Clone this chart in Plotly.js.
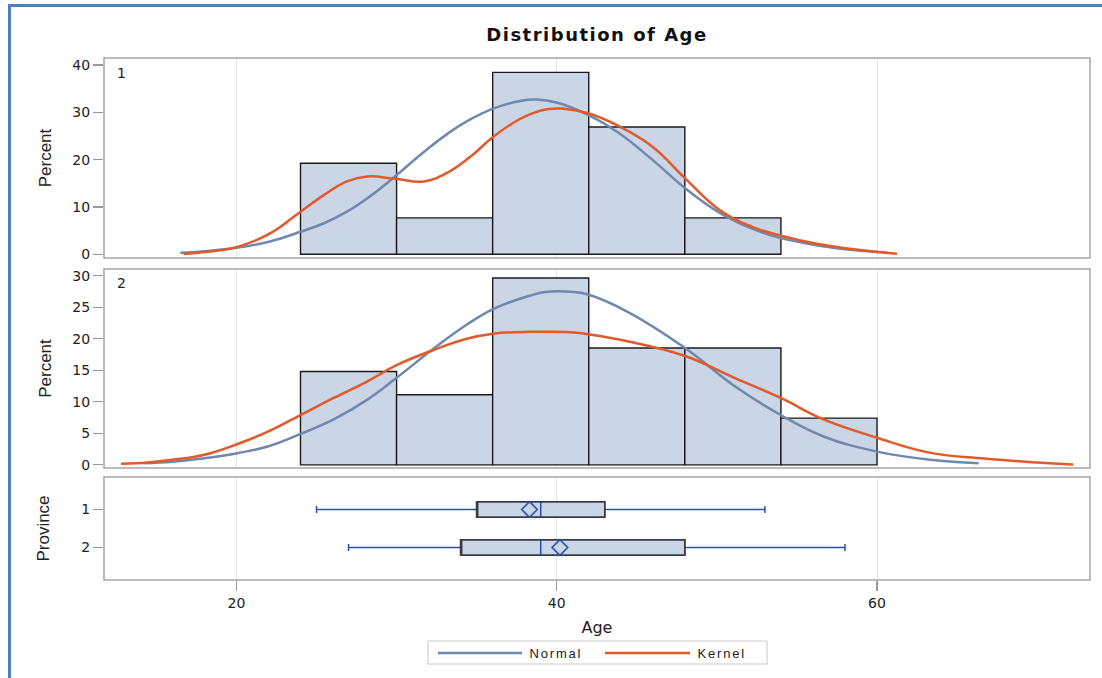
<!DOCTYPE html>
<html>
<head>
<meta charset="utf-8">
<script src="https://cdn.plot.ly/plotly-3.0.1.min.js"></script>
<style>
  html, body { margin:0; padding:0; background:#fff; overflow:hidden; }
  #frame { position:absolute; left:8px; top:4px; width:2000px; height:2000px;
           border-top:3px solid #4f81c0; border-left:3px solid #4f81c0; }
  #chart { position:absolute; left:0; top:0; width:1102px; height:678px; }
  .gtitle { letter-spacing: 1.5px; }
  g.annotation text.annotation-text { letter-spacing: 1.8px; }
</style>
</head>
<body>
<div id="frame"></div>
<div id="chart"></div>
<script>
// ---- Histogram data (percent of observations per 6-year bin) ----
const binCenters1 = [27, 33, 39, 45, 51];
const pct1        = [19.23, 7.69, 38.46, 26.92, 7.69];
const binCenters2 = [27, 33, 39, 45, 51, 57];
const pct2        = [14.81, 11.11, 29.63, 18.52, 18.52, 7.41];

// ---- Fitted curves, Province 1 ----
const normal1Age = [16.5, 18.2, 20.0, 22.1, 24.0, 25.5, 26.9, 28.2, 29.6, 31.7, 33.15, 34.6, 36.1, 37.7, 38.7, 40.1, 42.0, 43.9, 46.0, 48.0, 50.15, 52.2, 54.0, 56.4, 58.5, 60.6];
const normal1Pct = [0.3, 0.7, 1.35, 2.7, 4.75, 6.6, 9.0, 11.9, 15.6, 21.6, 25.4, 28.5, 30.9, 32.4, 32.7, 32.0, 29.4, 25.6, 19.9, 14.0, 8.8, 5.4, 3.4, 1.8, 0.9, 0.35];
const kernel1Age = [16.7, 18.2, 20.05, 22.1, 24.0, 25.5, 26.9, 28.16, 30.0, 31.7, 33.15, 34.6, 36.1, 37.7, 38.74, 39.5, 40.3, 41.96, 43.93, 46.0, 48.0, 50.15, 52.2, 54.0, 56.4, 59.9, 61.25];
const kernel1Pct = [0.05, 0.5, 1.56, 4.4, 9.0, 12.6, 15.4, 16.45, 15.9, 15.4, 17.2, 20.6, 25.0, 28.6, 30.1, 30.7, 30.8, 29.8, 27.0, 22.7, 16.1, 9.4, 5.8, 3.9, 2.1, 0.5, 0.1];

// ---- Fitted curves, Province 2 ----
const normal2Age = [14.25, 16.0, 18.0, 20.06, 22.0, 24.0, 26.07, 28.15, 30.0, 32.3, 34.37, 36.03, 38.3, 39.28, 41.06, 41.96, 44.4, 47.97, 51.1, 53.99, 56.66, 60.0, 63.34, 66.35];
const normal2Pct = [0.26, 0.5, 1.05, 1.85, 2.95, 4.9, 7.2, 10.3, 13.8, 18.4, 22.2, 24.7, 26.8, 27.4, 27.4, 27.0, 24.3, 18.6, 12.5, 7.9, 4.5, 2.1, 0.8, 0.27];
const kernel2Age = [12.8, 14.46, 16.0, 18.0, 20.06, 22.0, 24.0, 26.07, 28.15, 30.0, 32.3, 34.37, 36.03, 38.3, 39.28, 41.06, 41.96, 44.4, 47.97, 51.1, 53.99, 56.66, 60.0, 63.34, 66.7, 70.0, 72.25];
const kernel2Pct = [0.16, 0.37, 0.8, 1.6, 3.3, 5.3, 7.9, 10.6, 13.2, 15.8, 18.2, 20.0, 20.8, 21.1, 21.1, 21.0, 20.7, 19.6, 17.3, 13.8, 10.6, 7.2, 4.3, 1.9, 1.0, 0.37, 0.05];

// ---- Box plot statistics by province ----
const provinces   = [1, 2];
const boxQ1       = [35, 34];
const boxMedian   = [39, 39];
const boxQ3       = [43, 48];
const whiskerLow  = [25, 27];
const whiskerHigh = [53, 58];
const boxMean     = [38.3, 40.2];

// ---- Tick labels ----
const xTicks  = [20, 40, 60];
const y1Ticks = [0, 10, 20, 30, 40];
const y2Ticks = [0, 5, 10, 15, 20, 25, 30];
const legendNames = ['Normal', 'Kernel'];

const barFill = '#cad5e5';
const normalColor = '#7088ad';
const kernelColor = '#e2592b';
const whiskerColor = '#2a4fae';
const frameColor = '#a5a5a5';

const curveLine = c => ({color:c, width:2.5, shape:'spline', smoothing:1.2});

const traces = [
  {type:'bar', x:binCenters1, y:pct1, width:6, xaxis:'x', yaxis:'y',
   marker:{color:barFill, line:{color:'#1a1a1a', width:1.4}}, hoverinfo:'skip'},
  {type:'bar', x:binCenters2, y:pct2, width:6, xaxis:'x', yaxis:'y2',
   marker:{color:barFill, line:{color:'#1a1a1a', width:1.4}}, hoverinfo:'skip'},
  {type:'scatter', mode:'lines', x:normal1Age, y:normal1Pct, xaxis:'x', yaxis:'y', name:legendNames[0], line:curveLine(normalColor)},
  {type:'scatter', mode:'lines', x:kernel1Age, y:kernel1Pct, xaxis:'x', yaxis:'y', name:legendNames[1], line:curveLine(kernelColor)},
  {type:'scatter', mode:'lines', x:normal2Age, y:normal2Pct, xaxis:'x', yaxis:'y2', name:legendNames[0], line:curveLine(normalColor)},
  {type:'scatter', mode:'lines', x:kernel2Age, y:kernel2Pct, xaxis:'x', yaxis:'y2', name:legendNames[1], line:curveLine(kernelColor)},
  // full box (whiskers, caps, median) in blue
  {type:'box', orientation:'h', y:provinces, q1:boxQ1, median:boxMedian, q3:boxQ3,
   lowerfence:whiskerLow, upperfence:whiskerHigh, xaxis:'x', yaxis:'y3', width:0.41,
   whiskerwidth:0.45, fillcolor:barFill, line:{color:whiskerColor, width:1.5}, boxpoints:false, hoverinfo:'skip'},
  // dark outline of the box body
  {type:'box', orientation:'h', y:provinces, q1:boxQ1, median:boxQ1, q3:boxQ3,
   lowerfence:boxQ1, upperfence:boxQ3, xaxis:'x', yaxis:'y3', width:0.41,
   whiskerwidth:0, fillcolor:'rgba(0,0,0,0)', line:{color:'#3a3a3a', width:1.6}, boxpoints:false, hoverinfo:'skip'},
  {type:'scatter', mode:'markers', x:boxMean, y:provinces, xaxis:'x', yaxis:'y3',
   marker:{symbol:'diamond-open', size:12, color:whiskerColor, line:{width:1.6, color:whiskerColor}}, hoverinfo:'skip'}
];

const px = x => (x - 104) / 986;
const py = y => (580 - y) / 522;

const axisBase = {showline:false, zeroline:false,
                  ticks:'outside', ticklen:10, tickcolor:'#999', tickwidth:1.2,
                  tickfont:{family:'DejaVu Sans, sans-serif', size:14, color:'#222'}};
const yTitleFont = {family:'Liberation Sans Narrow, Liberation Sans, sans-serif', size:17, color:'#222'};

const panelFrame = (top, bottom) => ({type:'rect', xref:'paper', yref:'paper', x0:0, x1:1,
  y0:py(bottom), y1:py(top), line:{color:frameColor, width:1.5}, fillcolor:'rgba(0,0,0,0)', layer:'above'});

const layout = {
  width:1102, height:678,
  margin:{l:104, r:12, t:58, b:98},
  paper_bgcolor:'rgba(0,0,0,0)', plot_bgcolor:'#ffffff',
  showlegend:false,
  font:{family:'DejaVu Sans, sans-serif', size:13, color:'#222'},
  title:{text:'<b>Distribution of Age</b>', font:{family:'DejaVu Sans, sans-serif', size:18, color:'#111'},
         x:0.5, xref:'paper', xanchor:'center', y:1-35/678, yref:'container', yanchor:'middle'},
  xaxis:Object.assign({}, axisBase, {domain:[0,1], range:[11.73, 73.3], anchor:'y3', tickvals:xTicks,
         showgrid:true, gridcolor:'#e3e3e3', gridwidth:1,
         title:{text:'Age', font:{family:'DejaVu Sans, sans-serif', size:16, color:'#222'}, standoff:12}}),
  yaxis:Object.assign({}, axisBase, {domain:[py(258),1], range:[-0.8, 41.5], tickvals:y1Ticks,
         showgrid:false, anchor:'x', title:{text:'Percent', font:yTitleFont, standoff:16}}),
  yaxis2:Object.assign({}, axisBase, {domain:[py(468),py(269)], range:[-0.5, 31.05], tickvals:y2Ticks,
         showgrid:false, anchor:'x', title:{text:'Percent', font:yTitleFont, standoff:16}}),
  yaxis3:Object.assign({}, axisBase, {domain:[0,py(477)], range:[2.855, 0.145], tickvals:provinces,
         showgrid:false, anchor:'x', title:{text:'Province', font:yTitleFont, standoff:27}}),
  annotations:[
    {text:'1', xref:'paper', yref:'paper', x:px(116), y:py(73), xanchor:'left', yanchor:'middle', showarrow:false,
     font:{size:14, color:'#222'}},
    {text:'2', xref:'paper', yref:'paper', x:px(116), y:py(283), xanchor:'left', yanchor:'middle', showarrow:false,
     font:{size:14, color:'#222'}},
    {text:legendNames[0], xref:'paper', yref:'paper', x:px(533), y:py(653), xanchor:'left', yanchor:'middle', showarrow:false,
     font:{family:'Liberation Sans, sans-serif', size:13, color:'#222'}},
    {text:legendNames[1], xref:'paper', yref:'paper', x:px(701), y:py(653), xanchor:'left', yanchor:'middle', showarrow:false,
     font:{family:'Liberation Sans, sans-serif', size:13, color:'#222'}}
  ],
  shapes:[
    panelFrame(58, 258),
    panelFrame(269, 468),
    panelFrame(477, 580),
    {type:'rect', xref:'paper', yref:'paper', x0:px(428), x1:px(767), y0:py(664), y1:py(641),
     line:{color:'#c8c8c8', width:1}, fillcolor:'rgba(0,0,0,0)'},
    {type:'line', xref:'paper', yref:'paper', x0:px(438), x1:px(522), y0:py(653), y1:py(653),
     line:{color:normalColor, width:2.5}},
    {type:'line', xref:'paper', yref:'paper', x0:px(605), x1:px(690), y0:py(653), y1:py(653),
     line:{color:kernelColor, width:2.5}}
  ]
};

Plotly.newPlot('chart', traces, layout, {staticPlot:true, displayModeBar:false});
</script>
</body>
</html>
